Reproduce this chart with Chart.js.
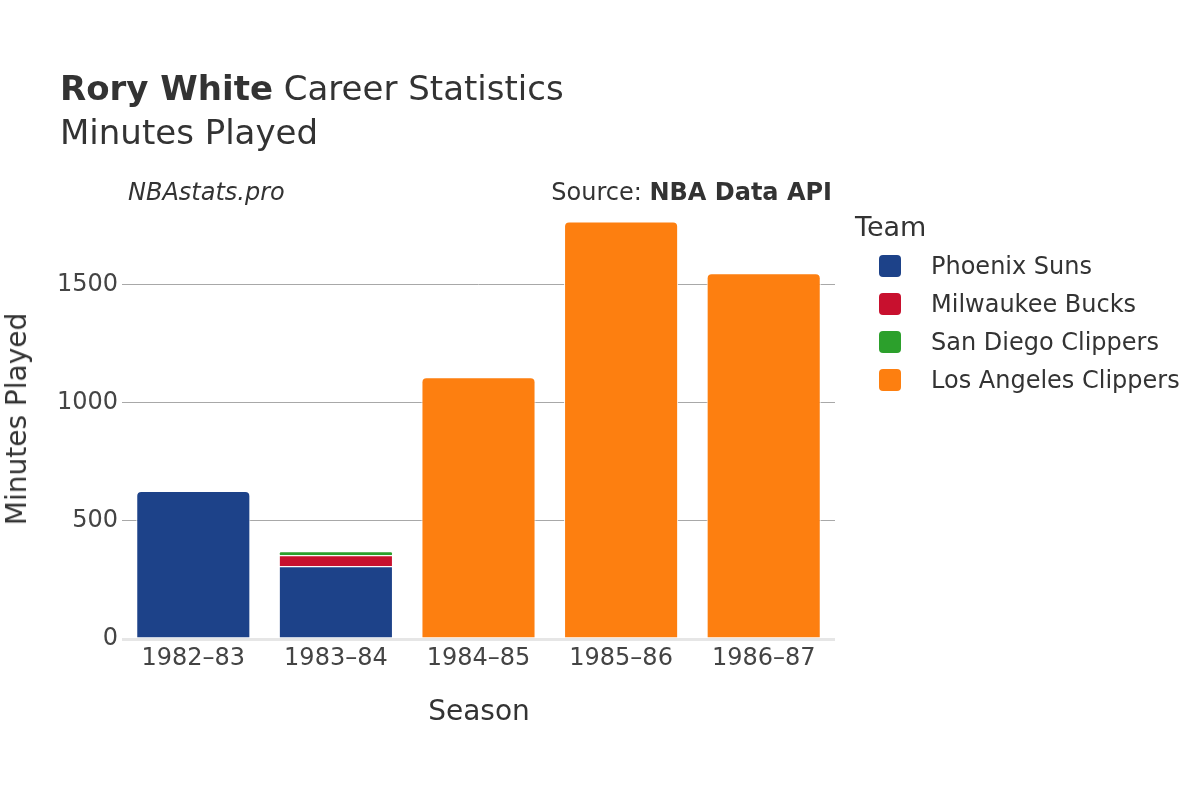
<!DOCTYPE html>
<html>
<head>
<meta charset="utf-8">
<script src="https://cdn.jsdelivr.net/npm/chart.js@4"></script>
<style>
    body { margin: 0; background: #fff; }
    #wrap { position: relative; width: 1200px; height: 800px; font-family: "DejaVu Sans", sans-serif; color: #333; }
    #wrap canvas { position: absolute; left: 0; top: 0; }
    .txt { position: absolute; white-space: nowrap; line-height: 1; }
    .swatch { position: absolute; width: 22px; height: 22px; border-radius: 4px; }
</style>
</head>
<body>
<div id="wrap">
    <canvas id="minutesChart" width="1200" height="800"></canvas>
    <div class="txt" style="left:60px; top:71px; font-size:34px;"><b>Rory White</b> Career Statistics</div>
    <div class="txt" style="left:60px; top:115px; font-size:34px;">Minutes Played</div>
    <div class="txt" style="left:128px; top:180px; font-size:24px; font-style:italic;">NBAstats.pro</div>
    <div class="txt" style="right:368px; top:180px; font-size:24px;">Source: <b>NBA Data API</b></div>
    <div class="txt" id="yTitle" style="font-size:28px;">Minutes Played</div>
    <div class="txt" id="xTitle" style="font-size:28px;">Season</div>
    <div id="legend"></div>
</div>
<script>
// Données
const seasons = ['1982–83', '1983–84', '1984–85', '1985–86', '1986–87'];
const teams = ['Phoenix Suns', 'Milwaukee Bucks', 'San Diego Clippers', 'Los Angeles Clippers'];
const teamColors = ['#1d4289', '#c8102e', '#2ca02c', '#fd7f10'];
const phoenixSuns = [627, 308, null, null, null];
const milwaukeeBucks = [null, 47, null, null, null];
const sanDiegoClippers = [null, 17, null, null, null];
const losAngelesClippers = [null, null, 1108, 1767, 1548];
const yTicks = [0, 500, 1000, 1500];

const teamValues = [phoenixSuns, milwaukeeBucks, sanDiegoClippers, losAngelesClippers];

// Titres des axes
const yTitle = document.getElementById('yTitle');
yTitle.style.left = '17px';
yTitle.style.top = '419px';
yTitle.style.transform = 'translate(-50%, -50%) rotate(-90deg)';
const xTitle = document.getElementById('xTitle');
xTitle.style.left = '479px';
xTitle.style.top = '711px';
xTitle.style.transform = 'translate(-50%, -50%)';

// Légende HTML
const legend = document.getElementById('legend');
let html = '<div class="txt" style="left:855px; top:213px; font-size:27px;">Team</div>';
teams.forEach((team, i) => {
    const y = 266 + i * 38;
    html += `<div class="swatch" style="left:879px; top:${y - 11}px; background:${teamColors[i]}"></div>`;
    html += `<div class="txt" style="left:931px; top:${y - 12}px; font-size:24px;">${team}</div>`;
});
legend.innerHTML = html;

const ctx = document.getElementById('minutesChart');
new Chart(ctx, {
    type: 'bar',
    data: {
        labels: seasons,
        datasets: teams.map((team, i) => ({
            label: team,
            data: teamValues[i],
            backgroundColor: teamColors[i],
            borderColor: '#ffffff',
            borderWidth: 1,
            borderRadius: 5,
            borderSkipped: 'start',
            barPercentage: 0.8,
            categoryPercentage: 1
        }))
    },
    options: {
        responsive: false,
        animation: false,
        layout: {
            padding: { left: 0, right: 365, top: 202, bottom: 0 }
        },
        plugins: {
            legend: { display: false },
            tooltip: { enabled: false }
        },
        scales: {
            x: {
                stacked: true,
                grid: { display: false },
                border: { display: false },
                ticks: {
                    color: '#444',
                    font: { family: 'DejaVu Sans', size: 24 },
                    padding: -3,
                    maxRotation: 0
                },
                afterFit: (scale) => { scale.height = 161; }
            },
            y: {
                stacked: true,
                min: 0,
                max: 1850,
                grid: {
                    color: (c) => c.tick && c.tick.value === 0 ? '#e6e6e6' : '#a8a8a8',
                    lineWidth: (c) => c.tick && c.tick.value === 0 ? 3 : 1,
                    drawTicks: false
                },
                border: { display: false },
                ticks: {
                    color: '#444',
                    font: { family: 'DejaVu Sans', size: 24 },
                    padding: 4,
                    callback: (v) => String(v)
                },
                afterBuildTicks: (scale) => { scale.ticks = yTicks.map(v => ({ value: v })); },
                afterFit: (scale) => { scale.width = 122; }
            }
        }
    }
});
</script>
</body>
</html>
